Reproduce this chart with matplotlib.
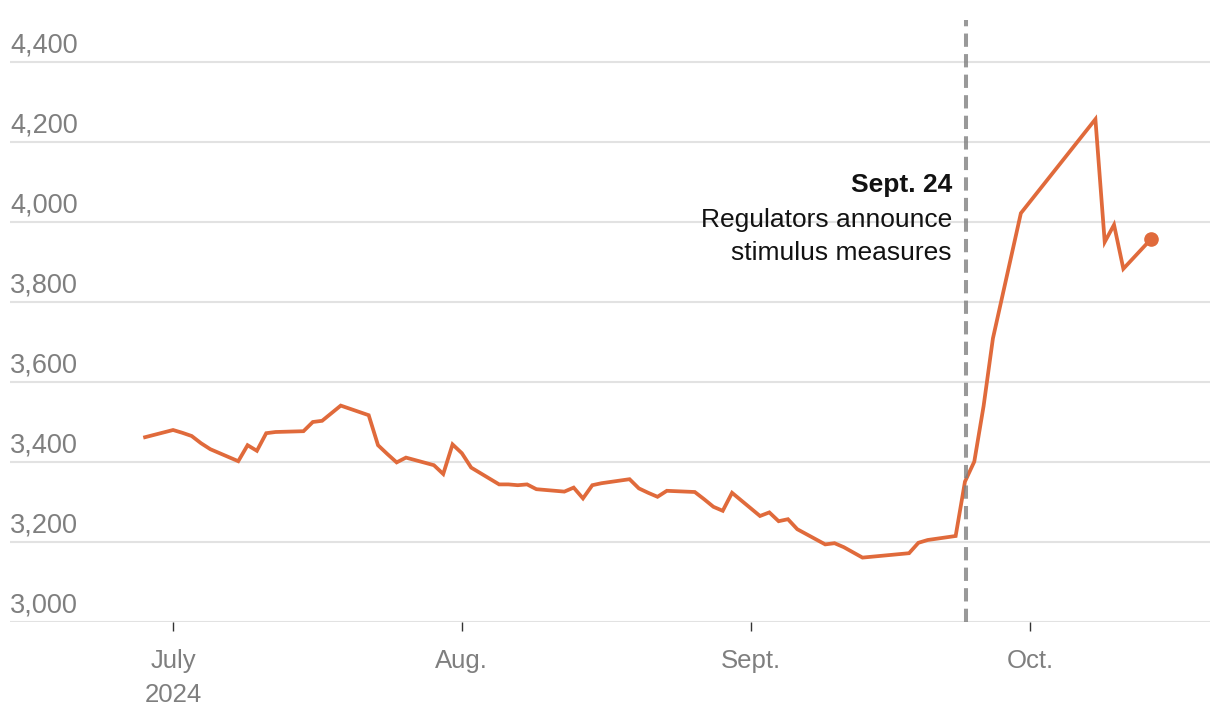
import pandas as pd
import matplotlib
matplotlib.use("Agg")
import matplotlib.pyplot as plt
import matplotlib.transforms as mtransforms

plt.rcParams['font.family'] = ['Liberation Sans', 'DejaVu Sans']

# Trading days and index closes
dates = [
    "2024-06-28", "2024-07-01", "2024-07-02", "2024-07-03", "2024-07-04", "2024-07-05",
    "2024-07-08", "2024-07-09", "2024-07-10", "2024-07-11", "2024-07-12",
    "2024-07-15", "2024-07-16", "2024-07-17", "2024-07-18", "2024-07-19",
    "2024-07-22", "2024-07-23", "2024-07-24", "2024-07-25", "2024-07-26",
    "2024-07-29", "2024-07-30", "2024-07-31", "2024-08-01", "2024-08-02",
    "2024-08-05", "2024-08-06", "2024-08-07", "2024-08-08", "2024-08-09",
    "2024-08-12", "2024-08-13", "2024-08-14", "2024-08-15", "2024-08-16",
    "2024-08-19", "2024-08-20", "2024-08-21", "2024-08-22", "2024-08-23",
    "2024-08-26", "2024-08-27", "2024-08-28", "2024-08-29", "2024-08-30",
    "2024-09-02", "2024-09-03", "2024-09-04", "2024-09-05", "2024-09-06",
    "2024-09-09", "2024-09-10", "2024-09-11", "2024-09-12", "2024-09-13",
    "2024-09-18", "2024-09-19", "2024-09-20",
    "2024-09-23", "2024-09-24", "2024-09-25", "2024-09-26", "2024-09-27",
    "2024-09-30",
    "2024-10-08", "2024-10-09", "2024-10-10", "2024-10-11",
    "2024-10-14",
]
values = [
    3462, 3480, 3473, 3465, 3447, 3432,
    3402, 3442, 3428, 3472, 3475,
    3477, 3500, 3503, 3522, 3541,
    3517, 3442, 3420, 3399, 3411,
    3392, 3370, 3444, 3422, 3386,
    3344, 3344, 3342, 3344, 3332,
    3326, 3336, 3309, 3342, 3347,
    3357, 3334, 3323, 3313, 3328,
    3325, 3307, 3288, 3278, 3323,
    3265, 3274, 3252, 3257, 3232,
    3194, 3197, 3187, 3174, 3161,
    3172, 3198, 3205,
    3215, 3351, 3401, 3540, 3709,
    4022,
    4257, 3950, 3993, 3883,
    3958,
]

yticks = [3000, 3200, 3400, 3600, 3800, 4000, 4200, 4400]
xtick_dates = ["2024-07-01", "2024-08-01", "2024-09-01", "2024-10-01"]
xtick_labels = ["July\n2024", "Aug.", "Sept.", "Oct."]
event_date = "2024-09-24"
event_title = "Sept. 24"
event_text = ["Regulators announce", "stimulus measures"]

line_color = "#e06a3b"
grey = "#7f7f7f"

df = pd.DataFrame({"date": pd.to_datetime(dates), "value": values})

fig = plt.figure(figsize=(12.2, 7.2), dpi=100)
ax = fig.add_axes([10 / 1220, 98 / 720, 1200 / 1220, 602 / 720])

# Gridlines
for v in yticks:
    ax.axhline(v, color="#e2e2e2", lw=1.5, zorder=1)

# Main series
ax.plot(df["date"], df["value"], color=line_color, lw=2.7, zorder=3,
        solid_joinstyle="miter")
ax.plot(df["date"].iloc[-1], df["value"].iloc[-1], "o", color=line_color,
        ms=9.5, zorder=4)

# Event line, drawn over the series
ev = pd.Timestamp(event_date)
ax.axvline(ev + pd.Timedelta(days=0.15), color="#808080", alpha=0.8, lw=2.9,
           dashes=(3.3, 1.8), zorder=5)

ax.set_xlim(pd.Timestamp("2024-07-01") - pd.Timedelta(days=17.5),
            pd.Timestamp("2024-07-01") + pd.Timedelta(days=111.3))
ax.set_ylim(3000, 4505)

# Y labels sit above the gridlines, on the left
trans = mtransforms.blended_transform_factory(ax.transAxes, ax.transData)
for v in yticks:
    ax.text(0, v + 25, f"{v:,}", transform=trans, ha="left", va="baseline",
            fontsize=19.5, color=grey)
ax.set_yticks([])

ax.set_xticks(pd.to_datetime(xtick_dates))
ax.set_xticklabels(xtick_labels, fontsize=18.5, color=grey)
for lab in ax.get_xticklabels():
    lab.set_linespacing(1.5)
ax.tick_params(axis="x", length=6.5, width=1, color="#333333", pad=13)

for s in ax.spines.values():
    s.set_visible(False)

# Annotation
tx = ev - pd.Timedelta(days=1.4)
ax.text(tx, 4092, event_title, ha="right", va="center", fontsize=19,
        fontweight="bold", color="#121212")
ax.text(tx, 4005, event_text[0], ha="right", va="center", fontsize=19,
        color="#121212")
ax.text(tx, 3922, event_text[1], ha="right", va="center", fontsize=19,
        color="#121212")

fig.savefig("out.png", dpi=100)
